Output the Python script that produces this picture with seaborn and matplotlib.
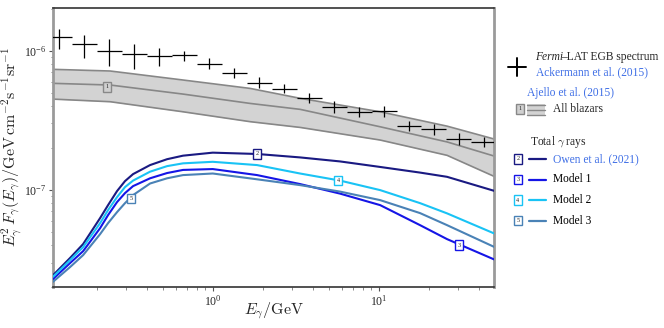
import numpy as np
import pandas as pd
import matplotlib
matplotlib.use("Agg")
import matplotlib.pyplot as plt
import seaborn as sns
from matplotlib.lines import Line2D
from matplotlib.patches import Rectangle

# ---------------- data ----------------
# Fermi-LAT EGB (Ackermann et al. 2015) bins, GeV
egb_e_lo = [0.1, 0.141, 0.2, 0.283, 0.4, 0.566, 0.8, 1.13, 1.6, 2.26, 3.2, 4.53, 6.4, 9.05, 12.8, 18.1, 25.6, 36.2]
egb_e_hi = [0.141, 0.2, 0.283, 0.4, 0.566, 0.8, 1.13, 1.6, 2.26, 3.2, 4.53, 6.4, 9.05, 12.8, 18.1, 25.6, 36.2, 51.2]
egb_flux = [1.248e-6, 1.111e-6, 0.995e-6, 0.942e-6, 0.916e-6, 0.927e-6, 0.806e-6, 0.688e-6, 0.589e-6,
            0.530e-6, 0.455e-6, 0.396e-6, 0.364e-6, 0.368e-6, 0.289e-6, 0.272e-6, 0.231e-6, 0.221e-6]
egb_up = [1.426e-6, 1.297e-6, 1.208e-6, 1.111e-6, 1.040e-6, 1.000e-6, 0.882e-6, 0.747e-6, 0.650e-6,
          0.573e-6, 0.499e-6, 0.437e-6, 0.3955e-6, 0.400e-6, 0.3136e-6, 0.2954e-6, 0.2546e-6, 0.2406e-6]
egb_lo = [1.023e-6, 0.882e-6, 0.776e-6, 0.735e-6, 0.776e-6, 0.847e-6, 0.735e-6, 0.633e-6, 0.536e-6,
          0.494e-6, 0.418e-6, 0.3545e-6, 0.3318e-6, 0.3351e-6, 0.2644e-6, 0.2474e-6, 0.2097e-6, 0.2018e-6]

# Ajello et al. (2015) all blazars band
blz_e = [0.109, 0.241, 0.662, 1.68, 3.36, 10.2, 25.8, 49.5]
blz_upper = [7.35e-7, 7.15e-7, 6.16e-7, 5.36e-7, 4.55e-7, 3.64e-7, 2.87e-7, 2.32e-7]
blz_mid = [5.83e-7, 5.67e-7, 4.88e-7, 4.18e-7, 3.79e-7, 2.84e-7, 2.21e-7, 1.75e-7]
blz_lower = [4.49e-7, 4.30e-7, 3.64e-7, 3.09e-7, 2.81e-7, 2.28e-7, 1.77e-7, 1.25e-7]

# total gamma-ray models
mod_e = [0.109, 0.138, 0.1655, 0.2095, 0.234, 0.265, 0.296, 0.331, 0.419, 0.5305, 0.662, 1.0, 1.85,
         3.355, 5.845, 10.2, 17.74, 25.8, 49.5]
owen = [2.43e-8, 3.23e-8, 4.07e-8, 6.26e-8, 7.76e-8, 9.79e-8, 1.155e-7, 1.297e-7, 1.506e-7, 1.66e-7,
        1.76e-7, 1.85e-7, 1.81e-7, 1.71e-7, 1.60e-7, 1.46e-7, 1.33e-7, 1.24e-7, 0.984e-7]
model1 = [2.28e-8, 2.97e-8, 3.62e-8, 5.30e-8, 6.58e-8, 8.16e-8, 9.47e-8, 1.063e-7, 1.21e-7, 1.32e-7,
          1.39e-7, 1.41e-7, 1.276e-7, 1.10e-7, 9.39e-8, 7.76e-8, 5.57e-8, 4.42e-8, 3.16e-8]
model2 = [2.37e-8, 3.12e-8, 3.87e-8, 5.76e-8, 7.145e-8, 8.86e-8, 1.046e-7, 1.165e-7, 1.35e-7, 1.48e-7,
          1.55e-7, 1.59e-7, 1.506e-7, 1.31e-7, 1.165e-7, 0.995e-7, 8.02e-8, 6.77e-8, 4.86e-8]
model3 = [2.18e-8, 2.78e-8, 3.39e-8, 4.80e-8, 5.76e-8, 6.91e-8, 8.02e-8, 9.16e-8, 1.11e-7, 1.21e-7,
          1.276e-7, 1.31e-7, 1.19e-7, 1.081e-7, 9.71e-8, 8.43e-8, 6.80e-8, 5.57e-8, 3.89e-8]

model_names = ["Owen et al. (2021)", "Model 1", "Model 2", "Model 3"]
model_tags = ["2", "3", "4", "5"]
model_colors = ["#1a1a82", "#1515e6", "#19c3f5", "#4a82b6"]
# label positions (x, y) on curves
tag_pos = [(1.85, 1.81e-7), (30.4, 4.0e-8), (5.69, 1.17e-7), (0.322, 8.7e-8)]

# ---------------- style ----------------
sns.set_theme(style="ticks")
plt.rcParams["font.family"] = ["Liberation Serif", "DejaVu Serif"]
plt.rcParams["mathtext.fontset"] = "cm"

fig = plt.figure(figsize=(6.64, 3.28), dpi=100)
ax = fig.add_axes([53 / 664, 1 - 287 / 328, (494 - 53) / 664, (287 - 8) / 328])

# blazar band
ax.fill_between(blz_e, blz_lower, blz_upper, color="#d3d3d3", lw=0, zorder=1)
for arr in (blz_upper, blz_mid, blz_lower):
    sns.lineplot(x=blz_e, y=arr, ax=ax, color="#878787", lw=1.2, zorder=2, sort=False)
ax.text(0.231, 5.5e-7, "1", fontsize=4.5, ha="center", va="center", zorder=5,
        bbox=dict(boxstyle="square,pad=0.35", fc="#d0d0d0", ec="#888888", lw=1.0))

# models
df = pd.DataFrame({
    "E": np.tile(mod_e, 4),
    "F": np.concatenate([owen, model1, model2, model3]),
    "model": np.repeat(model_names, len(mod_e)),
})
sns.lineplot(data=df, x="E", y="F", hue="model", hue_order=model_names,
             palette=model_colors, ax=ax, lw=1.5, legend=False, zorder=3, sort=False)
for tag, col, (tx, ty) in zip(model_tags, model_colors, tag_pos):
    ax.text(tx, ty, tag, fontsize=4.5, ha="center", va="center", zorder=6,
            bbox=dict(boxstyle="square,pad=0.35", fc="white", ec=col, lw=1.0))

# EGB points
e_c = np.sqrt(np.array(egb_e_lo) * np.array(egb_e_hi))
f = np.array(egb_flux)
ax.errorbar(e_c, f,
            xerr=[e_c - np.array(egb_e_lo), np.array(egb_e_hi) - e_c],
            yerr=[f - np.array(egb_lo), np.array(egb_up) - f],
            fmt="none", ecolor="black", elinewidth=0.9, capsize=0, zorder=4)

ax.set_xscale("log")
ax.set_yscale("log")
ax.set_xlim(0.109, 49.5)
ax.set_ylim(2.0e-8, 2.03e-6)
ax.set_xlabel(r"$E_\gamma/\mathrm{GeV}$", fontsize=11.5)
ax.set_ylabel(r"$E_\gamma^2\,F_\gamma(E_\gamma)/\mathrm{GeV\,cm^{-2}s^{-1}sr^{-1}}$", fontsize=11.5)
ax.yaxis.label.set_va("center")
ax.yaxis.set_label_coords((12 - 53) / 441, 0.5)
ax.xaxis.set_label_coords(0.5, (287 - 300) / 279)
ax.tick_params(axis="both", which="major", labelsize=8.5, length=3, width=0.8, color="#555555", pad=2)
ax.tick_params(axis="both", which="minor", length=1.8, width=0.6, color="#777777")
ax.yaxis.set_minor_formatter(matplotlib.ticker.NullFormatter())
ax.xaxis.set_minor_formatter(matplotlib.ticker.NullFormatter())
for s in ("left", "right"):
    ax.spines[s].set_color("#9a9a9a")
    ax.spines[s].set_linewidth(2.0)
for s in ("top", "bottom"):
    ax.spines[s].set_color("#333333")
    ax.spines[s].set_linewidth(1.2)

# ---------------- legend (figure coordinates) ----------------
def fx(px):
    return px / 664

def fy(py):
    return 1 - py / 328

blue_txt = "#3f6fe6"
fs = 8.3
fig.add_artist(Line2D([fx(508), fx(526)], [fy(67), fy(67)], color="black", lw=1.4))
fig.add_artist(Line2D([fx(517), fx(517)], [fy(58), fy(76)], color="black", lw=1.4))
fig.text(fx(535), fy(57), "Fermi", fontsize=fs, va="center", ha="left", style="italic")
fig.text(fx(561), fy(57), "–LAT EGB spectrum", fontsize=fs, va="center", ha="left")
fig.text(fx(536), fy(72), "Ackermann et al. (2015)", fontsize=fs, va="center", ha="left", color=blue_txt)
fig.text(fx(527), fy(93), "Ajello et al. (2015)", fontsize=fs, va="center", ha="left", color=blue_txt)
fig.text(fx(520), fy(109), "1", fontsize=4.5, ha="center", va="center",
         bbox=dict(boxstyle="square,pad=0.35", fc="#d0d0d0", ec="#888888", lw=1.0))
fig.add_artist(Rectangle((fx(527), fy(115)), fx(18), 11 / 328, color="#d3d3d3", lw=0))
for yy in (105, 110, 115):
    fig.add_artist(Line2D([fx(527), fx(545)], [fy(yy), fy(yy)], color="#888888", lw=1.0))
fig.text(fx(553), fy(109), "All blazars", fontsize=fs, va="center", ha="left")
fig.text(fx(530), fy(142), r"Total $\gamma$ rays", fontsize=fs, va="center", ha="left")
for i, (name, tag, col) in enumerate(zip(model_names, model_tags, model_colors)):
    yy = 159 + 20.5 * i
    fig.text(fx(518), fy(yy), tag, fontsize=4.5, ha="center", va="center",
             bbox=dict(boxstyle="square,pad=0.35", fc="white", ec=col, lw=1.0))
    fig.add_artist(Line2D([fx(529), fx(546)], [fy(yy), fy(yy)], color=col, lw=1.6))
    fig.text(fx(553), fy(yy), name, fontsize=fs, va="center", ha="left",
             color=blue_txt if i == 0 else "black")

fig.savefig("out.png", dpi=100)
